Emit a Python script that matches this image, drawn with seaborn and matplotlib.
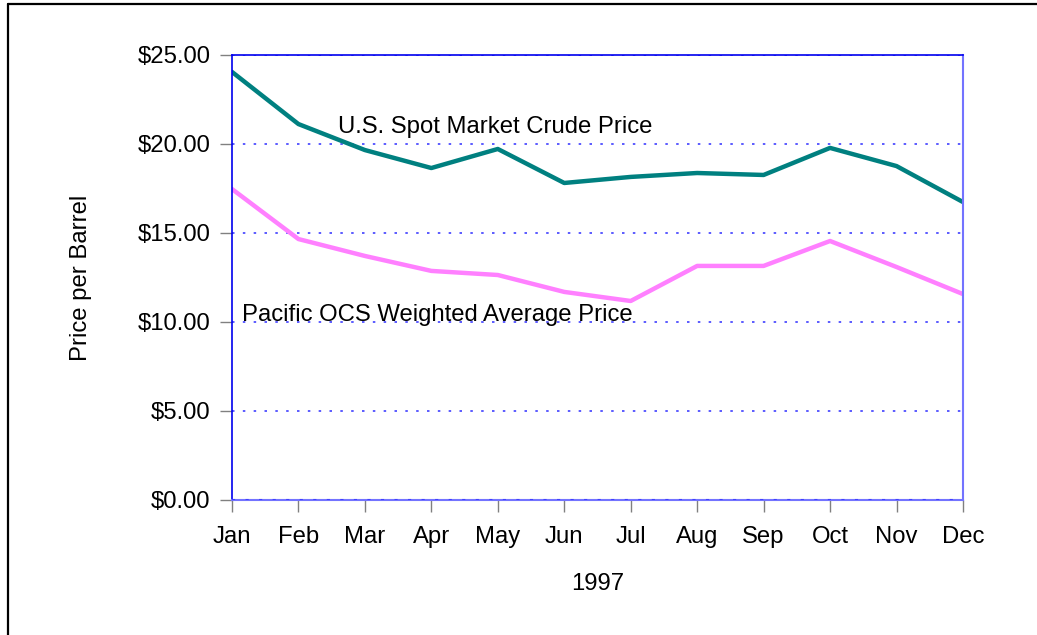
import numpy as np
import pandas as pd
import matplotlib
matplotlib.use("Agg")
import matplotlib.pyplot as plt
from matplotlib.lines import Line2D
from matplotlib.ticker import FuncFormatter
import seaborn as sns

months = ["Jan", "Feb", "Mar", "Apr", "May", "Jun", "Jul", "Aug", "Sep", "Oct", "Nov", "Dec"]
spot_price = [24.05, 21.12, 19.66, 18.65, 19.72, 17.81, 18.15, 18.37, 18.26, 19.78, 18.76, 16.74]
pacific_price = [17.47, 14.66, 13.71, 12.87, 12.64, 11.69, 11.18, 13.15, 13.15, 14.55, 13.09, 11.57]
spot_label = "U.S. Spot Market Crude Price"
pacific_label = "Pacific OCS Weighted Average Price"

sns.set_style("white")
plt.rcParams["font.family"] = ["Liberation Sans", "DejaVu Sans"]
plt.rcParams["text.color"] = "black"
plt.rcParams["axes.labelcolor"] = "black"

df = pd.DataFrame({
    "month": months * 2,
    "idx": list(range(12)) * 2,
    "price": spot_price + pacific_price,
    "series": [spot_label] * 12 + [pacific_label] * 12,
})

fs = 17.2
fig = plt.figure(figsize=(10.37, 6.35), dpi=100)
ax = fig.add_axes([0.2237, 0.2126, 0.7049, 0.7008])

sns.lineplot(data=df, x="idx", y="price", hue="series",
             palette={spot_label: "#008080", pacific_label: "#ff80ff"},
             linewidth=3.2, legend=False, ax=ax)

ax.set_xlim(0, 11)
ax.set_ylim(0, 25)
ax.set_xticks(range(12))
ax.set_xticklabels(months)
ax.set_yticks(np.arange(0, 26, 5))
ax.yaxis.set_major_formatter(FuncFormatter(lambda v, p: f"${v:.2f}"))
ax.tick_params(axis="both", labelsize=fs, colors="#808080", labelcolor="black",
               direction="out", length=8.5, width=1, left=True, bottom=True)
ax.tick_params(axis="x", pad=10)
ax.tick_params(axis="y", pad=7)

for y in [5, 10, 15, 20, 25]:
    ax.axhline(y, color="#4040ff", lw=1.2, ls=(0, (1.5, 5)), zorder=0)
ax.axhline(0, color="#4040ff", lw=1.5, ls=(0, (1.5, 5)), zorder=3)

for s in ["left", "top"]:
    ax.spines[s].set_color("#0000ee")
    ax.spines[s].set_linewidth(1.2)
for s in ["right", "bottom"]:
    ax.spines[s].set_color("#7373ff")
    ax.spines[s].set_linewidth(1.5)

ax.set_xlabel("1997", fontsize=fs, labelpad=18)
ax.set_ylabel("Price per Barrel", fontsize=fs, labelpad=33)

ax.text(1.6, 20.95, spot_label, fontsize=fs, va="center", ha="left")
ax.text(0.15, 10.42, pacific_label, fontsize=fs, va="center", ha="left")

# frame around the whole picture (top and left edges visible)
fig.add_artist(Line2D([8 / 1037, 1.0], [1 - 4 / 635, 1 - 4 / 635],
                      transform=fig.transFigure, color="black", lw=1.6))
fig.add_artist(Line2D([8 / 1037, 8 / 1037], [0.0, 1 - 4 / 635],
                      transform=fig.transFigure, color="black", lw=1.6))

fig.savefig("out.png", dpi=100)
